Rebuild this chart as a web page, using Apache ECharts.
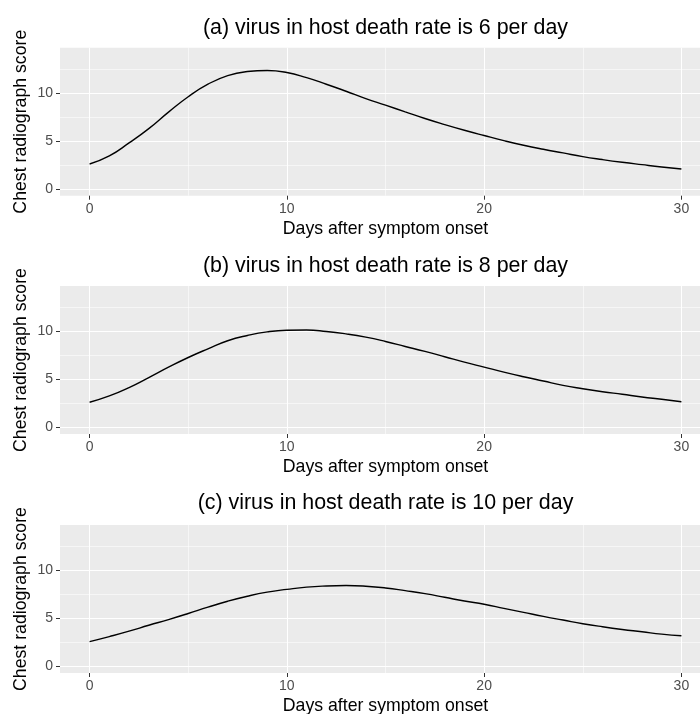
<!DOCTYPE html>
<html>
<head>
    <meta charset="UTF-8">
    <title>Chest radiograph score</title>
    <style>
        html, body { margin: 0; padding: 0; background: #fff; }
        #main { width: 700px; height: 714px; }
    </style>
    <script src="https://cdn.jsdelivr.net/npm/echarts@6/dist/echarts.min.js"></script>
</head>
<body>
<div id="main"></div>
<script>
    // days after onset
    var days = [0, 1, 2, 3, 4, 5, 6, 7, 8, 9, 10, 11, 12, 13, 14, 15, 16, 17, 18, 19, 20,
        21, 22, 23, 24, 25, 26, 27, 28, 29, 30];
    // (a) death rate 6
    var scoreA = [2.6, 3.44, 4.79, 6.28, 8.0, 9.6, 10.9, 11.8, 12.22, 12.33, 12.12, 11.58, 10.9, 10.17, 9.41,
        8.72, 8.02, 7.33, 6.7, 6.11, 5.56, 5.03, 4.55, 4.13, 3.75, 3.37, 3.06, 2.78, 2.53, 2.29, 2.08];
    // (b) death rate 8
    var scoreB = [2.6, 3.26, 4.13, 5.17, 6.25, 7.26, 8.16, 9.0, 9.55, 9.93, 10.1, 10.12, 9.97, 9.72, 9.38,
        8.93, 8.41, 7.89, 7.34, 6.78, 6.26, 5.74, 5.26, 4.81, 4.36, 4.01, 3.7, 3.43, 3.15, 2.91, 2.66];
    // (c) death rate 10
    var scoreC = [2.57, 3.09, 3.65, 4.27, 4.86, 5.49, 6.15, 6.77, 7.29, 7.71, 8.0, 8.24, 8.36, 8.4, 8.33,
        8.15, 7.87, 7.56, 7.18, 6.79, 6.45, 6.03, 5.61, 5.19, 4.81, 4.43, 4.11, 3.83, 3.59, 3.34, 3.17];

    var panelTitles = ['(a) virus in host death rate is 6 per day',
        '(b) virus in host death rate is 8 per day',
        '(c) virus in host death rate is 10 per day'];
    var xTicks = [0, 10, 20, 30];
    var xMinor = [5, 15, 25];
    var yTicks = [0, 5, 10];
    var yMinor = [2.5, 7.5, 12.5];

    var FONT = '"Liberation Sans", Arial, sans-serif';
    var tops = [47.7, 286, 525];
    var titleY = [28, 266.5, 503.5];
    var allScores = [scoreA, scoreB, scoreC];

    var grids = [], xAxes = [], yAxes = [], series = [], graphics = [];

    for (var i = 0; i < 3; i++) {
        // panel runs past the right edge, like the cropped original
        grids.push({
            left: 60, width: 651, top: tops[i], height: 148,
            outerBoundsMode: 'none',
            show: true, backgroundColor: '#EBEBEB', borderWidth: 0
        });
        // major x axis
        xAxes.push({
            type: 'value', gridIndex: i, min: -1.5, max: 31.5,
            name: 'Days after symptom onset', nameLocation: 'middle', nameGap: 24,
            nameMoveOverlap: false,
            nameTextStyle: { color: '#000', fontSize: 17.7, fontFamily: FONT },
            axisLine: { show: false, onZero: false },
            axisTick: { show: true, length: 4, customValues: xTicks, lineStyle: { color: '#333', width: 1 } },
            axisLabel: { customValues: xTicks, margin: 6, color: '#4D4D4D', fontSize: 14, fontFamily: FONT },
            splitLine: { show: true, lineStyle: { color: '#fff', width: 1.1 } }
        });
        // minor x grid
        xAxes.push({
            type: 'value', gridIndex: i, min: -1.5, max: 31.5,
            axisLine: { show: false, onZero: false },
            axisTick: { show: false, customValues: xMinor },
            axisLabel: { show: false, customValues: xMinor },
            splitLine: { show: true, lineStyle: { color: '#fff', width: 0.55 } }
        });
        yAxes.push({
            type: 'value', gridIndex: i, min: -0.7, max: 14.7,
            name: 'Chest radiograph score', nameLocation: 'middle', nameGap: 30, nameRotate: 90,
            nameMoveOverlap: false,
            nameTextStyle: { color: '#000', fontSize: 17.7, fontFamily: FONT },
            axisLine: { show: false, onZero: false },
            axisTick: { show: true, length: 4, customValues: yTicks, lineStyle: { color: '#333', width: 1 } },
            axisLabel: { customValues: yTicks, margin: 7, color: '#4D4D4D', fontSize: 14, fontFamily: FONT },
            splitLine: { show: true, lineStyle: { color: '#fff', width: 1.1 } }
        });
        yAxes.push({
            type: 'value', gridIndex: i, min: -0.7, max: 14.7,
            axisLine: { show: false, onZero: false },
            axisTick: { show: false, customValues: yMinor },
            axisLabel: { show: false, customValues: yMinor },
            splitLine: { show: true, lineStyle: { color: '#fff', width: 0.55 } }
        });
        series.push({
            type: 'line', xAxisIndex: i * 2, yAxisIndex: i * 2,
            data: days.map(function (d, k) { return [d, allScores[i][k]]; }),
            showSymbol: false, smooth: 0.5, silent: true,
            lineStyle: { color: '#000', width: 1.4 }, z: 5
        });
        graphics.push({
            type: 'text', x: 385.5, y: titleY[i],
            style: {
                text: panelTitles[i], fill: '#000', font: '21.4px ' + FONT,
                textAlign: 'center', textVerticalAlign: 'middle'
            }
        });
    }

    var chart = echarts.init(document.getElementById('main'));
    chart.setOption({
        animation: false,
        backgroundColor: '#fff',
        grid: grids,
        xAxis: xAxes,
        yAxis: yAxes,
        series: series,
        graphic: graphics
    });
</script>
</body>
</html>
